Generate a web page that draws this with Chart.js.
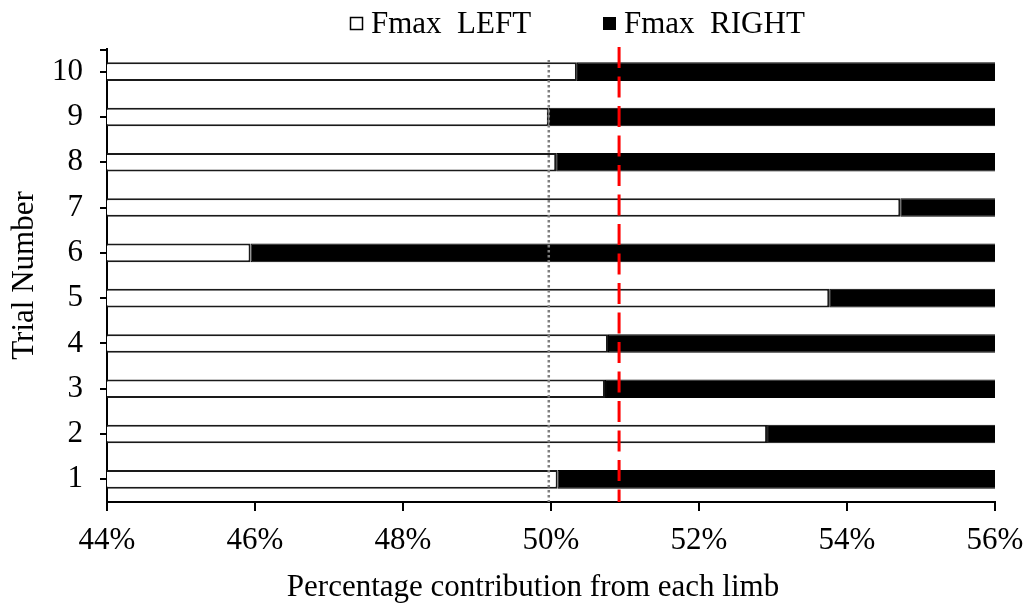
<!DOCTYPE html>
<html>
<head>
<meta charset="utf-8">
<style>
  html, body { margin: 0; padding: 0; background: #fff; }
  #c { display: block; }
</style>
<script src="https://cdn.jsdelivr.net/npm/chart.js@4/dist/chart.umd.min.js"></script>
</head>
<body>
<canvas id="c" width="1032" height="605"></canvas>
<script>
// Trial numbers and each limb's share of Fmax (%)
const trials = ['1', '2', '3', '4', '5', '6', '7', '8', '9', '10'];
const fmaxLeft = [50.09, 52.92, 50.73, 50.77, 53.76, 45.94, 54.72, 50.07, 49.97, 50.35];
const fmaxRight = [49.91, 47.08, 49.27, 49.23, 46.24, 54.06, 45.28, 49.93, 50.03, 49.65];

// Axis range and reference lines (%)
const xMin = 44;
const xMax = 56;
const xStep = 2;
const evenSplit = 49.97;
const meanLeft = 50.92;

const FONT = '"Liberation Serif", "Times New Roman", serif';

const overlay = {
  id: 'overlay',
  afterDatasetsDraw(chart) {
    const { ctx, chartArea, scales } = chart;
    const xs = scales.x;
    ctx.save();

    // even split, grey dotted
    const xe = xs.getPixelForValue(evenSplit);
    ctx.strokeStyle = '#7f7f7f';
    ctx.lineWidth = 2.5;
    ctx.setLineDash([2.5, 2.5]);
    ctx.beginPath();
    ctx.moveTo(xe, chartArea.top + 11);
    ctx.lineTo(xe, chartArea.bottom);
    ctx.stroke();

    // mean left contribution, red dashed
    const xm = xs.getPixelForValue(meanLeft);
    ctx.strokeStyle = '#ff0000';
    ctx.lineWidth = 3;
    ctx.setLineDash([21, 8.5]);
    ctx.beginPath();
    ctx.moveTo(xm, chartArea.top - 2);
    ctx.lineTo(xm, chartArea.bottom);
    ctx.stroke();
    ctx.setLineDash([]);

    // top end tick of the category axis
    ctx.strokeStyle = '#000';
    ctx.lineWidth = 2;
    ctx.beginPath();
    ctx.moveTo(chartArea.left - 7, chartArea.top + 1);
    ctx.lineTo(chartArea.left, chartArea.top + 1);
    ctx.stroke();

    // legend
    ctx.font = '31px ' + FONT;
    ctx.textBaseline = 'alphabetic';
    ctx.textAlign = 'left';
    ctx.lineWidth = 1.5;
    ctx.fillStyle = '#fff';
    ctx.fillRect(350.5, 17.5, 12, 12);
    ctx.strokeRect(350.5, 17.5, 12, 12);
    ctx.fillStyle = '#000';
    ctx.fillText('Fmax  LEFT', 371, 33);
    ctx.fillRect(603, 17, 13, 13);
    ctx.fillText('Fmax  RIGHT', 624, 33);

    // axis titles
    ctx.textAlign = 'center';
    ctx.fillText('Percentage contribution from each limb', 533, 596);
    ctx.save();
    ctx.translate(33, (chartArea.top + chartArea.bottom) / 2);
    ctx.rotate(-Math.PI / 2);
    ctx.fillText('Trial Number', 0, 0);
    ctx.restore();

    ctx.restore();
  }
};

new Chart(document.getElementById('c'), {
  type: 'bar',
  data: {
    labels: trials,
    datasets: [
      {
        label: 'Fmax  LEFT',
        data: fmaxLeft,
        backgroundColor: '#ffffff',
        borderColor: '#1a1a1a',
        borderWidth: 2,
        borderSkipped: false,
        barPercentage: 0.41,
        categoryPercentage: 1
      },
      {
        label: 'Fmax  RIGHT',
        data: fmaxRight,
        backgroundColor: '#000000',
        borderColor: '#000000',
        borderWidth: 1,
        borderSkipped: false,
        barPercentage: 0.41,
        categoryPercentage: 1
      }
    ]
  },
  options: {
    indexAxis: 'y',
    responsive: false,
    animation: false,
    layout: { padding: { left: 0, top: 49, right: 37, bottom: 0 } },
    plugins: {
      legend: { display: false },
      tooltip: { enabled: false }
    },
    scales: {
      x: {
        type: 'linear',
        stacked: true,
        min: xMin,
        max: xMax,
        ticks: {
          stepSize: xStep,
          callback: v => v + '%',
          color: '#000',
          font: { family: FONT, size: 31 },
          padding: 11,
          maxRotation: 0
        },
        grid: {
          drawOnChartArea: false,
          drawTicks: true,
          tickLength: 9,
          color: '#000',
          lineWidth: 2
        },
        border: { display: true, color: '#000', width: 2 },
        afterFit: s => { s.height = 103; s.paddingLeft = 0; s.paddingRight = 0; }
      },
      y: {
        type: 'category',
        stacked: true,
        reverse: true,
        ticks: {
          color: '#000',
          font: { family: FONT, size: 31 },
          padding: 17
        },
        grid: {
          offset: false,
          drawOnChartArea: false,
          drawTicks: true,
          tickLength: 7,
          color: '#000',
          lineWidth: 2
        },
        border: { display: true, color: '#000', width: 2 },
        afterFit: s => { s.width = 107; s.paddingTop = 0; s.paddingBottom = 0; }
      }
    }
  },
  plugins: [overlay]
});
</script>
</body>
</html>
